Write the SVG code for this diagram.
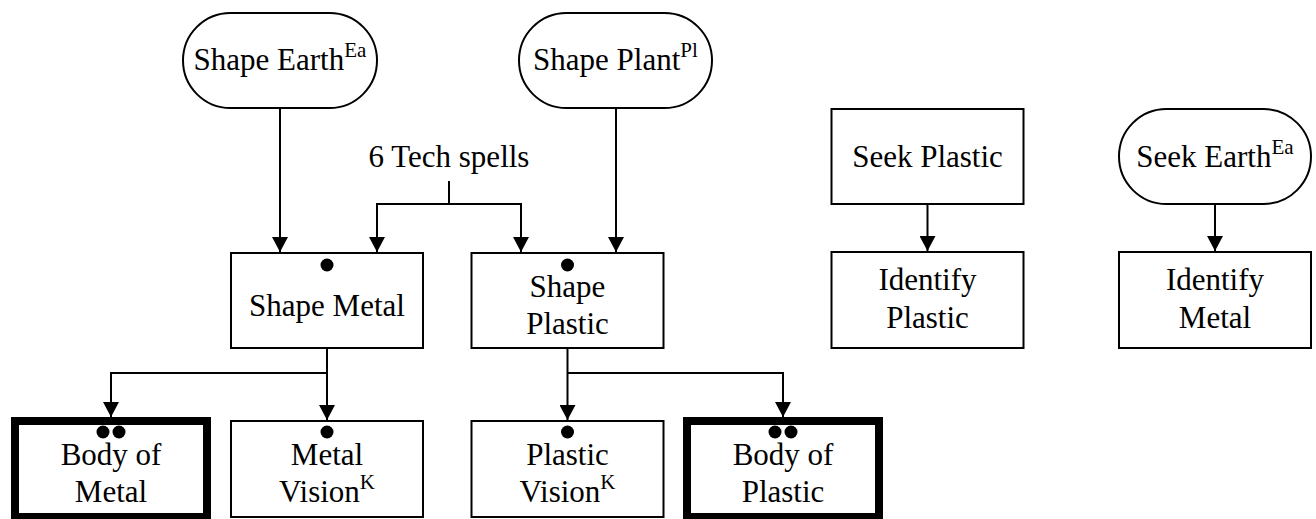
<svg xmlns="http://www.w3.org/2000/svg" width="1316" height="519" viewBox="0 0 1316 519">
<style>
.box{fill:#fff;stroke:#000;stroke-width:2}
.thick{fill:#fff;stroke:#000;stroke-width:8}
.t{font-family:"Liberation Serif","Times New Roman",serif;font-size:31px;fill:#000;text-anchor:middle}
.sup{font-size:21px}
.c{fill:none;stroke:#000;stroke-width:2}
.dot{fill:#000}
</style>
<defs>
<marker id="ah" markerUnits="userSpaceOnUse" markerWidth="16" markerHeight="16" refX="15" refY="8" orient="auto">
<path d="M0,0 L15,8 L0,16 z" fill="#000"/>
</marker>
</defs>
<rect width="1316" height="519" fill="#fff"/>
<g id="connectors">
<path class="c" d="M280,108 V252" marker-end="url(#ah)"/>
<path class="c" d="M616,108 V252" marker-end="url(#ah)"/>
<path class="c" d="M449,181 V204"/>
<path class="c" d="M449,204 H377 V252" marker-end="url(#ah)"/>
<path class="c" d="M449,204 H521 V252" marker-end="url(#ah)"/>
<path class="c" d="M927.5,204 V251" marker-end="url(#ah)"/>
<path class="c" d="M1215,204 V251" marker-end="url(#ah)"/>
<path class="c" d="M327,348 V420" marker-end="url(#ah)"/>
<path class="c" d="M327,373 H111 V417" marker-end="url(#ah)"/>
<path class="c" d="M567.5,348 V420" marker-end="url(#ah)"/>
<path class="c" d="M567.5,373 H783 V417" marker-end="url(#ah)"/>
</g>
<g id="shape-earth">
<rect class="box" x="183" y="13" width="194" height="95" rx="47.5" ry="47.5"/>
<text class="t" x="280" y="69.5">Shape Earth<tspan class="sup" dy="-13">Ea</tspan></text>
</g>
<g id="shape-plant">
<rect class="box" x="519" y="13" width="193" height="95" rx="47.5" ry="47.5"/>
<text class="t" x="615.5" y="69.5">Shape Plant<tspan class="sup" dy="-13">Pl</tspan></text>
</g>
<g id="tech-spells">
<text class="t" x="449" y="167">6 Tech spells</text>
</g>
<g id="shape-metal">
<rect class="box" x="231" y="253" width="192" height="95"/>
<circle class="dot" cx="327" cy="265" r="6.5"/>
<text class="t" x="327" y="316">Shape Metal</text>
</g>
<g id="shape-plastic">
<rect class="box" x="471.5" y="253" width="192" height="95"/>
<circle class="dot" cx="567.5" cy="265" r="6.5"/>
<text class="t" x="567.5" y="297">Shape</text>
<text class="t" x="567.5" y="334">Plastic</text>
</g>
<g id="seek-plastic">
<rect class="box" x="831.5" y="109" width="192" height="95"/>
<text class="t" x="927.5" y="167">Seek Plastic</text>
</g>
<g id="identify-plastic">
<rect class="box" x="831.5" y="252" width="192" height="96"/>
<text class="t" x="927.5" y="290">Identify</text>
<text class="t" x="927.5" y="328">Plastic</text>
</g>
<g id="seek-earth">
<rect class="box" x="1119" y="109" width="192" height="95" rx="47.5" ry="47.5"/>
<text class="t" x="1215" y="167">Seek Earth<tspan class="sup" dy="-13">Ea</tspan></text>
</g>
<g id="identify-metal">
<rect class="box" x="1119" y="252" width="192" height="96"/>
<text class="t" x="1215" y="290">Identify</text>
<text class="t" x="1215" y="328">Metal</text>
</g>
<g id="body-of-metal">
<rect class="thick" x="15" y="421" width="192" height="96"/>
<circle class="dot" cx="103" cy="432" r="6.5"/>
<circle class="dot" cx="119" cy="432" r="6.5"/>
<text class="t" x="111" y="465">Body of</text>
<text class="t" x="111" y="502">Metal</text>
</g>
<g id="metal-vision">
<rect class="box" x="231" y="421" width="192" height="96"/>
<circle class="dot" cx="327" cy="432" r="6.5"/>
<text class="t" x="327" y="465">Metal</text>
<text class="t" x="327" y="502">Vision<tspan class="sup" dy="-13">K</tspan></text>
</g>
<g id="plastic-vision">
<rect class="box" x="471.5" y="421" width="192" height="96"/>
<circle class="dot" cx="567.5" cy="432" r="6.5"/>
<text class="t" x="567.5" y="465">Plastic</text>
<text class="t" x="567.5" y="502">Vision<tspan class="sup" dy="-13">K</tspan></text>
</g>
<g id="body-of-plastic">
<rect class="thick" x="687" y="421" width="192" height="96"/>
<circle class="dot" cx="775" cy="432" r="6.5"/>
<circle class="dot" cx="791" cy="432" r="6.5"/>
<text class="t" x="783" y="465">Body of</text>
<text class="t" x="783" y="502">Plastic</text>
</g>
</svg>
